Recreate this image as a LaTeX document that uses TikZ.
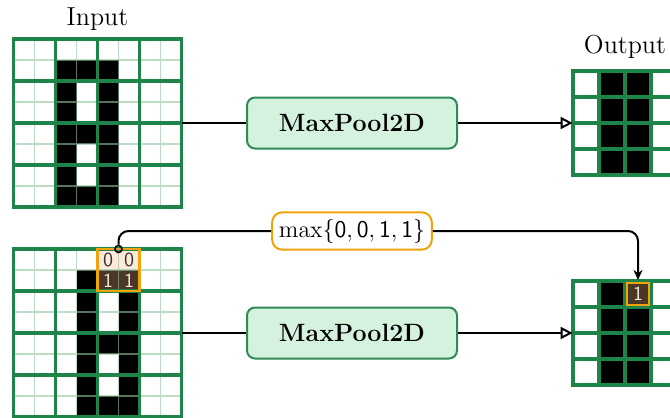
\documentclass[tikz,border=0pt]{standalone}
\usepackage{tikz}
\usetikzlibrary{positioning, arrows.meta}
\definecolor{gridgreen}{HTML}{1E8449}
\definecolor{gridlight}{HTML}{8FC4A0}
\definecolor{poolfill}{HTML}{D5F2DE}
\definecolor{pooldraw}{HTML}{2E8B57}
\definecolor{hlorange}{HTML}{F0A30A}
\definecolor{hlbeige}{HTML}{FDE9D9}
\definecolor{hlbrown}{HTML}{4A3728}
\definecolor{hltext}{HTML}{F3E7DA}

\begin{document}
\begin{tikzpicture}
  [x=0.5pt, y=-0.5pt,
   thinline/.style={gridlight, opacity=0.6, line width=0.85pt},
   thickline/.style={gridgreen, line width=1.6pt, line cap=rect},
   poolbox/.style={draw=pooldraw, fill=poolfill, line width=1pt, rounded corners=4pt,
     minimum width=105pt, minimum height=25.5pt, font=\fontsize{12.5}{15}\selectfont\bfseries},
   maxbox/.style={draw=hlorange, fill=white, line width=1pt, rounded corners=5pt,
     minimum width=76pt, minimum height=18pt, font=\large},
   title/.style={font=\fontsize{13}{16}\selectfont, inner sep=2pt},
   frame/.style={inner sep=0pt, minimum size=#1},
   probe/.style={circle, draw, line width=0.8pt, inner sep=0pt, minimum size=3.5pt},
   conn/.style={line width=1pt},
   digit/.style={font=\sffamily, inner sep=0pt}]

  \useasboundingbox (0,0) rectangle (670,418);
  \clip (0,0) rectangle (670,418);

  % input, first row
  \begin{scope}[shift={(13.5,39)}, x=10.5pt, y=-10.5pt]
    \foreach \c/\r in {2/1,3/1,4/1,2/2,4/2,2/3,4/3,2/4,3/4,4/4,2/5,4/5,2/6,4/6,2/7,3/7,4/7}
      \fill (\c,\r) rectangle ++(1,1);
    \draw[thinline] \foreach \i in {1,3,5,7} {(\i,0) -- (\i,8) (0,\i) -- (8,\i)};
    \draw[thickline] \foreach \i in {0,2,4,6,8} {(\i,0) -- (\i,8) (0,\i) -- (8,\i)};
    \node[frame=84pt] (inA) at (4,4) {};
  \end{scope}

  % output, first row
  \begin{scope}[shift={(573,71)}, x=13pt, y=-13pt]
    \foreach \r in {0,...,3}
      \fill (1,\r) rectangle (3,\r+1);
    \draw[thickline] \foreach \i in {0,...,4} {(\i,0) -- (\i,4) (0,\i) -- (4,\i)};
    \node[frame=52pt] (outA) at (2,2) {};
  \end{scope}

  % input, second row (shifted digit)
  \begin{scope}[shift={(13.5,249)}, x=10.5pt, y=-10.5pt]
    \fill[hlbeige] (4,0) rectangle (6,1);
    \fill[hlbrown] (4,1) rectangle (6,2);
    \foreach \c/\r in {3/1,3/2,5/2,3/3,5/3,3/4,4/4,5/4,3/5,5/5,3/6,5/6,3/7,4/7,5/7}
      \fill (\c,\r) rectangle ++(1,1);
    \draw[thinline] \foreach \i in {1,3,5,7} {(\i,0) -- (\i,8) (0,\i) -- (8,\i)};
    \draw[thickline] \foreach \i in {0,2,4,6,8} {(\i,0) -- (\i,8) (0,\i) -- (8,\i)};
    \draw[hlorange, line width=1.2pt] (4,0) rectangle (6,2);
    \foreach \c in {4,5} {
      \node[digit, text=black!80] at (\c+0.5,0.5) {0};
      \node[digit, text=hltext] at (\c+0.5,1.5) {1};
    }
    \node[frame=84pt] (inB) at (4,4) {};
    \node[probe] (probe) at (5,0) {};
  \end{scope}

  % output, second row
  \begin{scope}[shift={(573,281)}, x=13pt, y=-13pt]
    \foreach \c/\r in {1/0,1/1,2/1,1/2,2/2,1/3,2/3}
      \fill (\c,\r) rectangle ++(1,1);
    \draw[thickline] \foreach \i in {0,...,4} {(\i,0) -- (\i,4) (0,\i) -- (4,\i)};
    \node[digit, draw=hlorange, fill=hlbrown, line width=1pt, minimum size=11pt,
      text=hltext] (outcell) at (2.5,0.5) {1};
    \node[frame=52pt] (outB) at (2,2) {};
  \end{scope}

  \node[title, above=2pt of inA] {Input};
  \node[title, above=4pt of outA] {Output};

  \node[poolbox] (poolA) at (352,123) {MaxPool2D};
  \node[poolbox] (poolB) at (352,333) {MaxPool2D};
  \node[maxbox] (maxlabel) at (352,231) {$\max\{\mathsf{0}, \mathsf{0}, \mathsf{1}, \mathsf{1}\}$};

  \draw[conn] (inA) -- (poolA);
  \draw[conn, -{Triangle[open, length=6pt, width=6pt]}] (poolA) -- (outA);
  \draw[conn] (inB) -- (poolB);
  \draw[conn, -{Triangle[open, length=6pt, width=6pt]}] (poolB) -- (outB);

  \draw[conn, rounded corners=5pt] (probe.north) |- (maxlabel.west);
  \draw[conn, -{Stealth[length=5pt, width=4.5pt]}, rounded corners=5pt, shorten >=1pt]
    (maxlabel.east) -| (outcell.north);
\end{tikzpicture}
\end{document}
